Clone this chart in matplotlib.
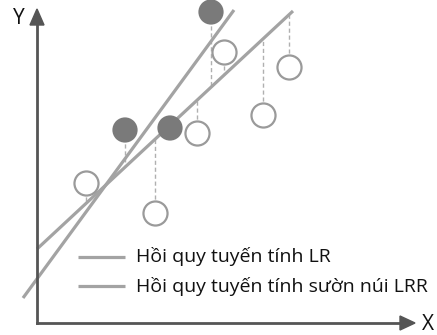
import numpy as np
import matplotlib
matplotlib.use("Agg")
import matplotlib.pyplot as plt

plt.rcParams['font.family'] = ['Open Sans', 'DejaVu Sans']

# picture coordinates (pixels, y downwards)
filled_x = [125, 170, 211]
filled_y = [130, 128, 12]
open_x = [86, 155, 197, 224, 263, 289]
open_y = [183, 213, 133, 52, 115, 67]

# two fitted lines, end points
lineA_x = [23, 234]
lineA_y = [298, 10]
lineB_x = [37, 293]
lineB_y = [249, 11]

labels = ["Hồi quy tuyến tính LR", "Hồi quy tuyến tính sườn núi LRR"]

line_col = '#a3a3a3'
dot_col = '#7a7a7a'
axis_col = '#555555'

fig = plt.figure(figsize=(4.37, 3.35), dpi=100)
ax = fig.add_axes([0, 0, 1, 1])
ax.set_xlim(0, 437)
ax.set_ylim(335, 0)
ax.axis('off')

slope = (lineB_y[1] - lineB_y[0]) / (lineB_x[1] - lineB_x[0])

# residual dashes down/up to line B
for px, py in zip(filled_x + open_x, filled_y + open_y):
    ly = lineB_y[0] + slope * (px - lineB_x[0])
    ax.plot([px, px], [py, ly], ls=(0, (3, 2)), color='#b0b0b0', lw=1, zorder=1)

ax.plot(lineA_x, lineA_y, color=line_col, lw=2.3, solid_capstyle='butt', zorder=2)
ax.plot(lineB_x, lineB_y, color=line_col, lw=2.3, solid_capstyle='butt', zorder=2)

ax.scatter(open_x, open_y, s=300, facecolors='white', edgecolors='#9a9a9a', linewidths=1.6, zorder=3)
ax.scatter(filled_x, filled_y, s=330, color=dot_col, edgecolors='none', zorder=3)

# axes with arrows
ax.plot([37, 37], [323, 24], color=axis_col, lw=2, zorder=4)
ax.plot([37, 402], [323, 323], color=axis_col, lw=2, zorder=4)
ax.fill([30, 44, 37], [25, 25, 9], color=axis_col, zorder=4)
ax.fill([400, 400, 415], [316, 330, 323], color=axis_col, zorder=4)
ax.text(19, 18, 'Y', fontsize=15, ha='center', va='center', color='#111111')
ax.text(428, 325, 'X', fontsize=15, ha='center', va='center', color='#111111')

# legend
for yy, lab in zip([257, 286], labels):
    ax.plot([78, 125], [yy, yy], color=line_col, lw=2.3, solid_capstyle='butt')
    ax.text(136, yy, lab, fontsize=14, ha='left', va='center', color='#111111')

fig.savefig('out.png', dpi=100)
